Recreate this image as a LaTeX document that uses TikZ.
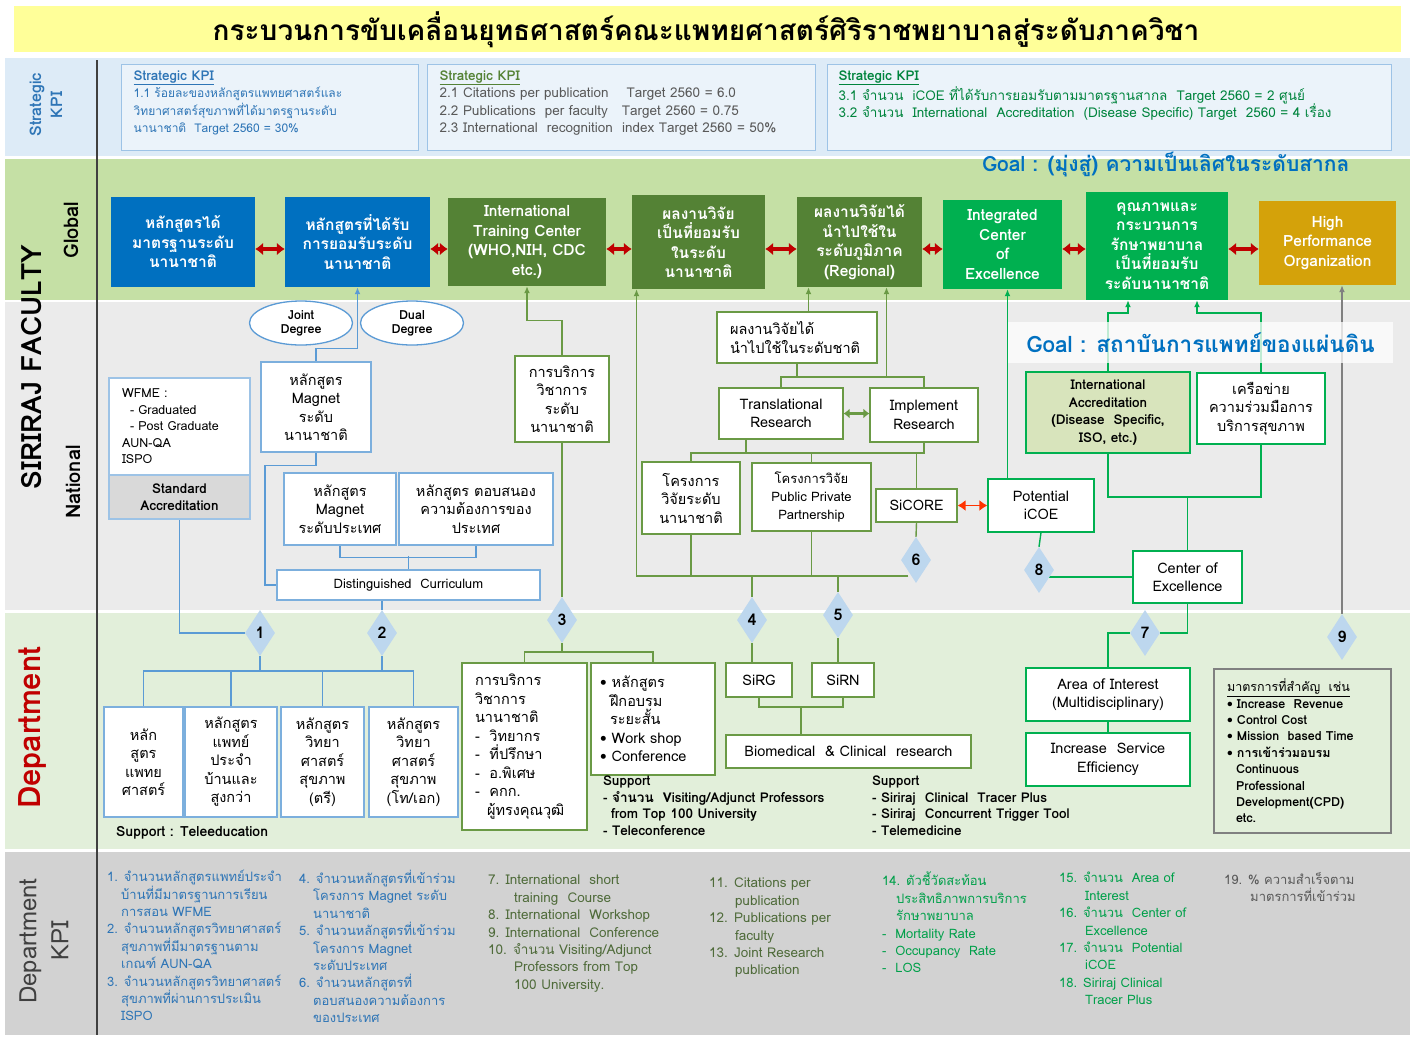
\documentclass[tikz,border=0pt]{standalone}
\usepackage{fontspec}
\setmainfont{Loma}[Script=Thai]
\usetikzlibrary{shapes.geometric,arrows.meta,positioning,calc}
\pgfdeclarelayer{back}
\pgfdeclarelayer{wires}
\pgfsetlayers{back,wires,main}

\definecolor{titleYellow}{HTML}{FFFF99}
\definecolor{kpiBand}{HTML}{DDEBF7}
\definecolor{globalBand}{HTML}{C5E0A5}
\definecolor{nationalBand}{HTML}{EBEBEB}
\definecolor{deptBand}{HTML}{E2EFDA}
\definecolor{deptKpiBand}{HTML}{D2D2D2}
\definecolor{uniBlue}{HTML}{0070C0}
\definecolor{kpiBlue}{HTML}{2E75B6}
\definecolor{kpiEdge}{HTML}{9DC3E6}
\definecolor{lineBlue}{HTML}{5B9BD5}
\definecolor{olive}{HTML}{548235}
\definecolor{oliveLine}{HTML}{6A9A45}
\definecolor{emerald}{HTML}{00B050}
\definecolor{emeraldDark}{HTML}{00843D}
\definecolor{gold}{HTML}{D4A20A}
\definecolor{arrowRed}{HTML}{C00000}
\definecolor{tipRed}{HTML}{FF3300}
\definecolor{diamondBlue}{HTML}{BDD7EE}
\definecolor{accredFill}{HTML}{D8E4BC}
\definecolor{darkText}{HTML}{404040}
\definecolor{grayText}{HTML}{595959}
\definecolor{kpiOlive}{HTML}{4F6B3A}
\definecolor{kpiGreen}{HTML}{00A04A}

\newcommand{\titleFont}[0]{\bfseries\fontsize{28}{32}\selectfont}
\newcommand{\kpiFont}[0]{\fontsize{12}{17.5}\selectfont}
\newcommand{\kpiWideFont}[0]{\fontsize{13.5}{17.5}\selectfont}
\newcommand{\globalFont}[0]{\bfseries\fontsize{15.5}{19.5}\selectfont}
\newcommand{\boxFont}[0]{\fontsize{14.5}{18.5}\selectfont}
\newcommand{\smallFont}[0]{\fontsize{12.5}{16.5}\selectfont}
\newcommand{\goalFont}[0]{\bfseries\fontsize{21}{24}\selectfont}
\newcommand{\rowFont}[0]{\bfseries\fontsize{20}{24}\selectfont}
\newcommand{\bigRowFont}[0]{\bfseries\fontsize{28}{32}\selectfont}
\newcommand{\deptKpiFont}[0]{\fontsize{13}{17.4}\selectfont}
\newcommand{\deptKpiWideFont}[0]{\fontsize{13.5}{17.4}\selectfont}
\newcommand{\lineWidth}[0]{1.4pt}
\newcommand{\kpiIndent}[0]{\hspace*{14pt}}

\begin{document}
\begin{tikzpicture}[x=1pt, y=-1pt, >={Latex[length=7pt,width=6pt]},
  kpibox/.style={draw=kpiEdge, fill=kpiBand!60!white, line width=1pt},
  kpitext/.style={anchor=north west, align=left, font=\kpiFont, inner sep=0pt},
  globalbox/.style={align=center, text=white, font=\globalFont, inner sep=1pt},
  bluebox/.style={draw=lineBlue!80, fill=white, line width=1.2pt, align=center, font=\boxFont, inner sep=2pt},
  olivebox/.style={bluebox, draw=oliveLine},
  greenbox/.style={bluebox, draw=emerald},
  bline/.style={draw=lineBlue, line width=\lineWidth},
  gline/.style={draw=oliveLine, line width=\lineWidth},
  eline/.style={draw=emerald, line width=\lineWidth},
  kline/.style={draw=gray, line width=\lineWidth},
  redarrow/.style={draw=arrowRed, line width=3.5pt, {Latex[length=8pt,width=13pt]}-{Latex[length=8pt,width=13pt]}},
  number/.style={diamond, fill=diamondBlue, aspect=0.65, minimum width=30pt, minimum height=46pt, inner sep=0pt, font=\bfseries\fontsize{16}{16}\selectfont},
  degree/.style={ellipse, draw=lineBlue, fill=white, line width=1.3pt, minimum width=103pt, minimum height=44pt, align=center, inner sep=0pt, font=\bfseries\fontsize{12.5}{14}\selectfont},
  rowlabel/.style={rotate=90, align=center},
  support/.style={anchor=north west, align=left, inner sep=0pt, font=\bfseries\fontsize{13.5}{16.5}\selectfont}
]
\useasboundingbox (0,0) rectangle (1414,1037);

% bands
\begin{pgfonlayer}{back}
  \fill[white] (0,0) rectangle (1414,1037);
  \fill[titleYellow] (14,6) rectangle (1401,52);
  \fill[kpiBand] (5,58) rectangle (1410,156);
  \fill[globalBand] (5,159) rectangle (1410,300);
  \fill[nationalBand] (5,302) rectangle (1410,610);
  \fill[deptBand] (5,613) rectangle (1410,849);
  \fill[deptKpiBand] (5,852) rectangle (1410,1035);
  \draw[darkText, line width=1.2pt] (97,60) -- (97,1035);
\end{pgfonlayer}

\node[font=\titleFont] (title) at (706,30) {กระบวนการขับเคลื่อนยุทธศาสตร์คณะแพทยศาสตร์ศิริราชพยาบาลสู่ระดับภาควิชา};

% row labels
\node[rowlabel, font=\bfseries\fontsize{16}{21}\selectfont, text=kpiBlue] (lblKpi) at (46,105) {Strategic\\KPI};
\node[rowlabel, font=\bigRowFont] (lblFaculty) at (32,367) {SIRIRAJ FACULTY};
\node[rowlabel, font=\rowFont] (lblGlobal) at (71,230) {Global};
\node[rowlabel, font=\rowFont] (lblNational) at (73,482) {National};
\node[rowlabel, font=\bfseries\fontsize{31}{34}\selectfont, text=arrowRed] (lblDept) at (32,728) {Department};
\node[rowlabel, font=\fontsize{24}{32}\selectfont, text=darkText] (lblDeptKpi) at (44,941) {Department\\KPI};

% strategic KPI
\node[kpibox, minimum width=297pt, minimum height=86pt] (kpiA) at (269.5,107) {};
\node[kpibox, minimum width=388pt, minimum height=86pt] (kpiB) at (621,107) {};
\node[kpibox, minimum width=564pt, minimum height=86pt] (kpiC) at (1109,107) {};
\node[kpitext, text=kpiBlue] (kpiAtext) at ([shift={(13,7)}]kpiA.north west)
  {\textbf{\fontsize{13.5}{17.5}\selectfont\underline{Strategic KPI}}\\1.1 ร้อยละของหลักสูตรแพทยศาสตร์และ\\วิทยาศาสตร์สุขภาพที่ได้มาตรฐานระดับ\\นานาชาติ~ Target 2560 = 30\%};
\node[kpitext, text=grayText, font=\kpiWideFont] (kpiBtext) at ([shift={(13,7)}]kpiB.north west)
  {\textcolor{olive}{\textbf{\underline{Strategic KPI}}}\\2.1 Citations per publication\hspace{18pt}Target 2560 = 6.0\\2.2 Publications~ per faculty\hspace{14pt}Target 2560 = 0.75\\2.3 International~ recognition~ index Target 2560 = 50\%};
\node[kpitext, text=emeraldDark, font=\kpiWideFont] (kpiCtext) at ([shift={(12,7)}]kpiC.north west)
  {\textbf{\underline{Strategic KPI}}\\3.1 จำนวน~ iCOE ที่ได้รับการยอมรับตามมาตรฐานสากล~ Target 2560 = 2 ศูนย์\\3.2 จำนวน~ International~ Accreditation~ (Disease Specific) Target~ 2560 = 4 เรื่อง};
\node[anchor=east, font=\goalFont, text=uniBlue] (goal1) at (1353,165) {Goal : (มุ่งสู่) ความเป็นเลิศในระดับสากล};

% global row
\node[globalbox, fill=uniBlue, minimum width=144pt, minimum height=90pt] (g1) at (183,242) {หลักสูตรได้\\มาตรฐานระดับ\\นานาชาติ};
\node[globalbox, fill=uniBlue, minimum width=145pt, minimum height=90pt] (g2) at (357.5,242) {หลักสูตรที่ได้รับ\\การยอมรับระดับ\\นานาชาติ};
\node[globalbox, fill=olive, minimum width=158pt, minimum height=88pt] (g3) at (527,242) {International\\Training Center\\(WHO,NIH, CDC\\etc.)};
\node[globalbox, fill=olive, minimum width=133pt, minimum height=94pt] (g4) at (698.5,242) {ผลงานวิจัย\\เป็นที่ยอมรับ\\ในระดับ\\นานาชาติ};
\node[globalbox, fill=olive, minimum width=125pt, minimum height=90pt] (g5) at (859.5,242) {ผลงานวิจัยได้\\นำไปใช้ใน\\ระดับภูมิภาค\\(Regional)};
\node[globalbox, fill=emerald, minimum width=119pt, minimum height=89pt] (g6) at (1002.5,244.5) {Integrated\\Center\\of\\Excellence};
\node[globalbox, fill=emerald, minimum width=142pt, minimum height=108pt] (g7) at (1157,246) {คุณภาพและ\\กระบวนการ\\รักษาพยาบาล\\เป็นที่ยอมรับ\\ระดับนานาชาติ};
\node[globalbox, fill=gold, minimum width=137pt, minimum height=84pt] (g8) at (1327.5,243) {High\\Performance\\Organization};
\coordinate (ra) at (0,249);
\foreach \a/\b in {g1/g2, g2/g3, g3/g4, g4/g5, g5/g6, g6/g7, g7/g8}
  \draw[redarrow] (\a.east |- ra) -- (\b.west |- ra);

% national row
\node[degree] (joint) at (301,323) {Joint\\Degree};
\node[degree] (dual) at (412,323) {Dual\\Degree};
\node[bluebox, minimum width=110pt, minimum height=90pt] (mgI) at (316,407) {หลักสูตร\\Magnet\\ระดับ\\นานาชาติ};
\node[bluebox, draw=kpiEdge, align=left, font=\smallFont, text width=115pt, inner xsep=13pt, minimum height=97pt] (wfme) at (179.5,426.5) {WFME :\\\hspace*{8pt}- Graduated\\\hspace*{8pt}- Post Graduate\\AUN-QA\\ISPO};
\node[bluebox, draw=kpiEdge, fill=gray!30, font=\bfseries\fontsize{13.5}{17}\selectfont, minimum width=141pt, minimum height=44pt] (std) at (179.5,497) {Standard\\Accreditation};
\node[bluebox, minimum width=112pt, minimum height=72pt] (mgP) at (340,509) {หลักสูตร\\Magnet\\ระดับประเทศ};
\node[bluebox, minimum width=154pt, minimum height=72pt] (resp) at (476,509) {หลักสูตร ตอบสนอง\\ความต้องการของ\\ประเทศ};
\node[bluebox, font=\fontsize{13}{15}\selectfont, minimum width=263pt, minimum height=30pt] (dc) at (408.5,585) {Distinguished~ Curriculum};
\node[olivebox, minimum width=94pt, minimum height=86pt] (acad) at (562,399) {การบริการ\\วิชาการ\\ระดับ\\นานาชาติ};
\node[olivebox, align=left, text width=134pt, inner xsep=13pt, minimum height=51pt] (nres) at (797,337.5) {ผลงานวิจัยได้\\นำไปใช้ในระดับชาติ};
\node[olivebox, minimum width=124pt, minimum height=51pt] (trans) at (781,413.5) {Translational\\Research};
\node[olivebox, minimum width=108pt, minimum height=54pt] (impl) at (924,415) {Implement\\Research};
\node[olivebox, minimum width=98pt, minimum height=72pt] (proj) at (691,498) {โครงการ\\วิจัยระดับ\\นานาชาติ};
\node[olivebox, font=\fontsize{13}{18}\selectfont, minimum width=119pt, minimum height=68pt] (ppp) at (811.5,497) {โครงการวิจัย\\Public Private\\Partnership};
\node[olivebox, minimum width=81pt, minimum height=33pt] (sicore) at (916.5,505.5) {SiCORE};
\node[greenbox, minimum width=106pt, minimum height=53pt] (picoe) at (1041,505.5) {Potential\\iCOE};
\node[greenbox, fill=accredFill, font=\bfseries\fontsize{13.5}{17.5}\selectfont, minimum width=164pt, minimum height=81pt] (intacc) at (1108,412.5) {International\\Accreditation\\(Disease~ Specific,\\ISO, etc.)};
\node[greenbox, minimum width=128pt, minimum height=71pt] (netw) at (1261,408.5) {เครือข่าย\\ความร่วมมือการ\\บริการสุขภาพ};
\node[greenbox, minimum width=109pt, minimum height=52pt] (coe) at (1187.5,577) {Center of\\Excellence};
\node[fill=white, fill opacity=0.75, text opacity=1, font=\bfseries\fontsize{22.5}{25}\selectfont, text=uniBlue, minimum width=385pt, minimum height=41pt] (goal2) at (1200.5,342.5) {Goal : สถาบันการแพทย์ของแผ่นดิน};

% department row
\node[bluebox, minimum width=79pt, minimum height=110pt] (b1) at (143.5,762) {หลัก\\สูตร\\แพทย\\ศาสตร์};
\node[bluebox, minimum width=92pt, minimum height=110pt] (b2) at (231,762) {หลักสูตร\\แพทย์\\ประจำ\\บ้านและ\\สูงกว่า};
\node[bluebox, minimum width=83pt, minimum height=110pt] (b3) at (322.5,762) {หลักสูตร\\วิทยา\\ศาสตร์\\สุขภาพ\\(ตรี)};
\node[bluebox, minimum width=89pt, minimum height=110pt] (b4) at (413.5,762) {หลักสูตร\\วิทยา\\ศาสตร์\\สุขภาพ\\(โท/เอก)};
\node[support, font=\bfseries\fontsize{14}{16.5}\selectfont] (sup1) at (116,826) {Support : Teleeducation};
\node[olivebox, align=left, text width=99pt, inner xsep=13pt, minimum height=167pt] (d3a) at (524.5,746.5) {การบริการ\\วิชาการ\\นานาชาติ\\- \ วิทยากร\\- \ ที่ปรึกษา\\- \ อ.พิเศษ\\- \ คกก.\\\hspace*{12pt}ผู้ทรงคุณวุฒิ};
\node[olivebox, align=left, text width=106pt, inner xsep=9pt, minimum height=112pt] (d3b) at (653,719) {\textbullet\ หลักสูตร\\\hspace*{10pt}ฝึกอบรม\\\hspace*{10pt}ระยะสั้น\\\textbullet\ Work shop\\\textbullet\ Conference};
\node[support] (sup2) at (603,776) {Support\\- จำนวน~ Visiting/Adjunct Professors\\\hspace*{8pt}from Top 100 University\\- Teleconference};
\node[olivebox, minimum width=66pt, minimum height=34pt] (sirg) at (759,680) {SiRG};
\node[olivebox, minimum width=62pt, minimum height=34pt] (sirn) at (843,680) {SiRN};
\node[olivebox, minimum width=245pt, minimum height=33pt] (bio) at (848.5,751.5) {Biomedical~ \& Clinical~ research};
\node[support] (sup3) at (872,776) {Support\\- Siriraj~ Clinical~ Tracer Plus\\- Siriraj~ Concurrent Trigger Tool\\- Telemedicine};
\node[greenbox, minimum width=164pt, minimum height=53pt] (area) at (1108,694.5) {Area of Interest\\(Multidisciplinary)};
\node[greenbox, minimum width=164pt, minimum height=53pt] (incr) at (1108,759.5) {Increase~ Service\\Efficiency};
\node[bluebox, draw=gray, fill=none, align=left, text width=151pt, inner xsep=13pt, minimum height=164pt, font=\fontsize{12.5}{16.4}\selectfont] (meas) at (1302.5,751)
  {\underline{มาตรการที่สำคัญ~ เช่น}\\\bfseries \textbullet\ Increase~ Revenue\\\textbullet\ Control Cost\\\textbullet\ Mission~ based Time\\\textbullet\ การเข้าร่วมอบรม\\\hspace*{9pt}Continuous\\\hspace*{9pt}Professional\\\hspace*{9pt}Development(CPD)\\\hspace*{9pt}etc.};

% numbers
\node[number] (n1) at (260,633) {1};
\node[number] (n2) at (382,633) {2};
\node[number] (n3) at (562,620) {3};
\node[number] (n4) at (752,620) {4};
\node[number] (n5) at (838,615) {5};
\node[number] (n6) at (916,560) {6};
\node[number] (n7) at (1145,633) {7};
\node[number] (n8) at (1039,570) {8};
\node[number] (n9) at (1342,637) {9};

% department KPI
\node[kpitext, text=kpiBlue, font=\deptKpiFont] (kpi1) at (107,870) {1. จำนวนหลักสูตรแพทย์ประจำ\\\kpiIndent บ้านที่มีมาตรฐานการเรียน\\\kpiIndent การสอน WFME\\2. จำนวนหลักสูตรวิทยาศาสตร์\\\kpiIndent สุขภาพที่มีมาตรฐานตาม\\\kpiIndent เกณฑ์ AUN-QA\\3. จำนวนหลักสูตรวิทยาศาสตร์\\\kpiIndent สุขภาพที่ผ่านการประเมิน\\\kpiIndent ISPO};
\node[kpitext, text=kpiBlue, font=\deptKpiFont] (kpi2) at (299,870) {4. จำนวนหลักสูตรที่เข้าร่วม\\\kpiIndent โครงการ Magnet ระดับ\\\kpiIndent นานาชาติ\\5. จำนวนหลักสูตรที่เข้าร่วม\\\kpiIndent โครงการ Magnet\\\kpiIndent ระดับประเทศ\\6. จำนวนหลักสูตรที่\\\kpiIndent ตอบสนองความต้องการ\\\kpiIndent ของประเทศ};
\node[kpitext, text=kpiOlive, font=\deptKpiWideFont] (kpi3) at (488,875) {7. International~ short\\\hspace*{26pt}training~ Course\\8. International~ Workshop\\9. International~ Conference\\10. จำนวน Visiting/Adjunct\\\hspace*{26pt}Professors from Top\\\hspace*{26pt}100 University.};
\node[kpitext, text=kpiOlive, font=\deptKpiWideFont] (kpi4) at (709,878) {11. Citations per\\\hspace*{26pt}publication\\12. Publications per\\\hspace*{26pt}faculty\\13. Joint Research\\\hspace*{26pt}publication};
\node[kpitext, text=kpiGreen, font=\deptKpiFont] (kpi5) at (882,872) {14. ตัวชี้วัดสะท้อน\\\hspace*{14pt}ประสิทธิภาพการบริการ\\\hspace*{14pt}รักษาพยาบาล\\-~ Mortality Rate\\-~ Occupancy~ Rate\\-~ LOS};
\node[kpitext, text=kpiGreen, font=\deptKpiFont] (kpi6) at (1059,872) {15. จำนวน~ Area of\\\hspace*{26pt}Interest\\16. จำนวน~ Center of\\\hspace*{26pt}Excellence\\17. จำนวน~ Potential\\\hspace*{26pt}iCOE\\18. Siriraj Clinical\\\hspace*{26pt}Tracer Plus};
\node[kpitext, text=grayText, font=\deptKpiFont] (kpi7) at (1224,872) {19. \% ความสำเร็จตาม\\\hspace*{26pt}มาตรการที่เข้าร่วม};

% connectors
\begin{pgfonlayer}{wires}
  % blue
  \draw[bline,->] (mgI.north) -- ++(0,-13) -| (g2.south);
  \draw[bline] (mgI.south) -- ++(0,13) -- ++(-51,0) |- (dc.west);
  \draw[bline] (mgP.south) -- ++(0,12) -| (resp.south);
  \draw[bline] (dc.north) -- ++(0,-13);
  \draw[bline] (std.south) |- (n1.west);
  \draw[bline] (n2.north |- dc.south) -- (n2.north);
  \coordinate (j1) at (0,671);
  \draw[bline] (b1.north) |- (j1 -| b4.north) -- (b4.north);
  \foreach \b in {b2,b3,n1,n2}
    \draw[bline] (\b |- j1) -- (\b);
  % olive
  \draw[gline,->] (acad.north) -- ++(0,-35) -| (g3.south);
  \draw[gline] (acad.south) -- (n3.north);
  \coordinate (j3) at (0,652);
  \draw[gline] (d3a.north) |- (j3 -| d3b.north) -- (d3b.north);
  \draw[gline] (n3.south) -- (n3.south |- j3);
  \coordinate (j4) at (0,576);
  \coordinate (g4in) at ([xshift=-62pt]g4.south);
  \draw[gline,->] (j4 -| n6.south west) -| (g4in);
  \foreach \b in {proj,ppp}
    \draw[gline] (\b.south) -- (\b.south |- j4);
  \foreach \b in {n4,n5}
    \draw[gline] (\b.north) -- (\b.north |- j4);
  \draw[gline] (sicore.south) -- (n6.north);
  \coordinate (j5) at (0,453);
  \draw[gline] (proj.north) |- (j5 -| impl.south) -- (impl.south);
  \draw[gline] ([xshift=-35pt]trans.south) -- ([xshift=-35pt]trans.south |- j5);
  \foreach \b in {ppp,sicore}
    \draw[gline] (\b.north) -- (\b.north |- j5);
  \coordinate (j6) at (0,377);
  \draw[gline] (trans.north) |- (j6 -| impl.north) -- (impl.north);
  \draw[gline] (nres.south) -- (nres.south |- j6);
  \coordinate (g5in) at ([xshift=27pt]g5.south);
  \draw[gline,->] (j6 -| g5in) -- (g5in);
  \coordinate (g5left) at ([xshift=-51pt]g5.south);
  \draw[gline,->] (nres.north -| g5left) -- (g5left);
  \draw[draw=oliveLine, line width=2.5pt, {Latex[length=6pt,width=10pt]}-{Latex[length=6pt,width=10pt]}] (trans.east) -- (trans.east -| impl.west);
  \draw[gline] (n4.south) -- (n4.south |- sirg.north);
  \draw[gline] (n5.south) -- (n5.south |- sirn.north);
  \coordinate (j9) at (0,707);
  \draw[gline] (sirg.south) |- (j9 -| sirn.south) -- (sirn.south);
  \coordinate (j9m) at ($(sirg.south)!0.5!(sirn.south)$);
  \draw[gline] (j9m |- j9) -- (j9m |- bio.north);
  % emerald
  \draw[draw=tipRed, line width=1.5pt, {Latex[length=8pt,width=11pt]}-{Latex[length=8pt,width=11pt]}] (sicore.east) -- (sicore.east -| picoe.west);
  \coordinate (g6in) at ([xshift=5pt]g6.south);
  \draw[eline,->] (picoe.north -| g6in) -- (g6in);
  \draw[eline] (picoe.south) -- (n8.north);
  \draw[eline] (n8.center |- coe.west) -- (coe.west);
  \coordinate (j7) at (0,497);
  \draw[eline] (intacc.south) |- (j7 -| netw.south) -- (netw.south);
  \draw[eline] (coe.north) -- (coe.north |- j7);
  \coordinate (j8) at (0,313);
  \coordinate (g7inL) at ([xshift=-29pt]g7.south);
  \coordinate (g7inR) at ([xshift=40pt]g7.south);
  \draw[eline,->] (intacc.north) |- (j8 -| g7inL) -- (g7inL);
  \draw[eline,->] (netw.north) |- (j8 -| g7inR) -- (g7inR);
  \draw[eline] (coe.south) |- (n7.east);
  \draw[eline] (n7.west) -| (area.north);
  \draw[eline] (area.south) -- (incr.north);
  % gray
  \draw[kline,->] (n9.north) -- (n9.north |- g8.south);
\end{pgfonlayer}
\end{tikzpicture}
\end{document}
